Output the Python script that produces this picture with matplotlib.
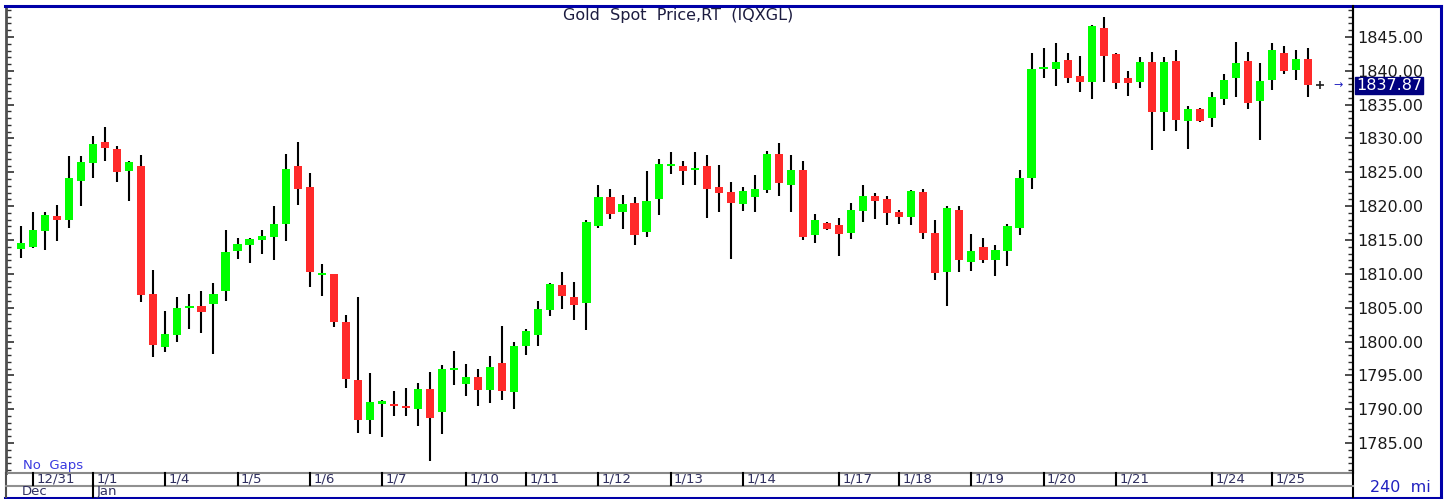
import matplotlib
matplotlib.use('Agg')
import matplotlib.pyplot as plt
from matplotlib.ticker import MultipleLocator, FormatStrFormatter
from matplotlib.transforms import blended_transform_factory

# 240-minute candles, Gold spot (IQXGL)
OPEN = [1813.6, 1814.0, 1816.4, 1818.5, 1817.9, 1823.7, 1826.4, 1829.5, 1828.5, 1825.2,
        1826.0, 1807.0, 1799.2, 1801.0, 1804.9, 1805.3, 1805.6, 1807.5, 1813.4, 1814.3,
        1815.05, 1815.5, 1817.3, 1825.9, 1822.8, 1809.95, 1810.0, 1802.9, 1794.3, 1788.35,
        1790.8, 1790.8, 1790.5, 1790.1, 1793.0, 1789.6, 1795.8, 1793.7, 1794.8, 1792.8,
        1796.8, 1792.5, 1799.3, 1801.0, 1804.7, 1808.35, 1806.6, 1805.65, 1817.1, 1821.4,
        1819.1, 1820.5, 1816.2, 1821.1, 1826.0, 1826.0, 1825.4, 1825.9, 1822.9, 1822.05,
        1820.3, 1821.4, 1822.4, 1827.7, 1823.2, 1825.35, 1815.8, 1817.5, 1817.2, 1816.1,
        1819.3, 1821.5, 1821.0, 1819.1, 1818.35, 1822.05, 1816.1, 1810.2, 1819.5, 1811.7,
        1813.9, 1812.05, 1813.4, 1816.8, 1824.2, 1840.3, 1840.3, 1841.55, 1839.2, 1838.4,
        1846.4, 1842.5, 1839.0, 1838.4, 1841.3, 1833.9, 1841.5, 1832.6, 1834.4, 1833.0,
        1835.9, 1839.0, 1841.4, 1835.6, 1838.65, 1842.6, 1840.1, 1841.7]
HIGH = [1817.0, 1819.1, 1819.1, 1820.2, 1827.4, 1827.4, 1830.4, 1831.7, 1828.9, 1826.7,
        1827.6, 1810.6, 1804.5, 1806.6, 1807.0, 1807.4, 1808.6, 1816.5, 1815.3, 1815.3,
        1816.5, 1820.0, 1827.7, 1829.5, 1824.9, 1811.4, 1810.0, 1803.9, 1806.6, 1795.3,
        1791.3, 1792.7, 1793.2, 1793.8, 1795.5, 1796.6, 1798.65, 1796.7, 1796.0, 1797.8,
        1802.3, 1800.0, 1801.8, 1806.0, 1808.7, 1810.2, 1808.8, 1817.9, 1823.2, 1822.5,
        1821.6, 1821.4, 1825.2, 1827.0, 1828.0, 1826.7, 1828.0, 1827.5, 1826.1, 1823.6,
        1822.8, 1824.6, 1828.1, 1829.3, 1827.5, 1826.7, 1818.9, 1817.6, 1818.2, 1820.5,
        1823.2, 1822.0, 1821.5, 1819.5, 1822.4, 1822.6, 1817.9, 1820.0, 1820.0, 1815.9,
        1815.25, 1814.2, 1817.4, 1825.35, 1842.7, 1843.4, 1844.1, 1842.7, 1842.2, 1846.75,
        1848.0, 1842.6, 1840.0, 1842.1, 1842.8, 1842.1, 1843.1, 1834.85, 1834.5, 1836.9,
        1839.5, 1844.2, 1842.8, 1841.2, 1844.1, 1843.7, 1843.1, 1843.4]
LOW = [1812.4, 1813.8, 1813.5, 1814.9, 1816.7, 1820.0, 1824.2, 1826.7, 1823.5, 1820.7,
       1805.9, 1797.7, 1798.5, 1800.0, 1801.8, 1801.3, 1798.2, 1806.0, 1812.2, 1811.6,
       1812.9, 1812.0, 1814.9, 1820.2, 1808.0, 1806.7, 1802.2, 1793.2, 1786.5, 1786.3,
       1785.9, 1789.0, 1789.0, 1787.5, 1782.3, 1786.3, 1793.5, 1792.0, 1790.4, 1790.9,
       1791.4, 1790.1, 1798.0, 1799.3, 1803.8, 1804.85, 1803.2, 1801.7, 1816.7, 1818.1,
       1816.6, 1814.2, 1815.5, 1818.7, 1824.8, 1823.1, 1823.1, 1818.2, 1819.1, 1812.2,
       1819.3, 1819.2, 1821.9, 1821.5, 1819.1, 1815.0, 1814.5, 1816.5, 1812.6, 1815.2,
       1817.7, 1818.1, 1817.2, 1817.4, 1817.2, 1815.1, 1809.1, 1805.25, 1810.3, 1810.4,
       1811.65, 1809.7, 1811.1, 1815.7, 1822.5, 1838.9, 1837.8, 1838.15, 1836.9, 1835.8,
       1838.4, 1837.3, 1836.3, 1837.4, 1828.3, 1831.1, 1831.1, 1828.4, 1832.5, 1831.65,
       1834.95, 1836.1, 1834.3, 1829.8, 1837.1, 1839.6, 1838.65, 1836.1]
CLOSE = [1814.5, 1816.5, 1818.7, 1817.9, 1824.2, 1826.5, 1829.2, 1828.6, 1825.0, 1826.5,
         1806.9, 1799.5, 1801.1, 1805.0, 1805.3, 1804.3, 1807.0, 1813.2, 1814.4, 1815.15,
         1815.6, 1817.3, 1825.5, 1822.6, 1810.2, 1810.05, 1802.9, 1794.5, 1788.35, 1791.0,
         1791.15, 1790.5, 1790.2, 1793.0, 1788.65, 1796.0, 1796.0, 1794.7, 1792.8, 1796.3,
         1792.7, 1799.3, 1801.5, 1804.8, 1808.55, 1806.7, 1805.35, 1817.6, 1821.4, 1818.9,
         1820.3, 1815.7, 1820.7, 1826.2, 1826.1, 1825.25, 1825.5, 1822.5, 1821.9, 1820.4,
         1822.3, 1822.5, 1827.7, 1823.4, 1825.35, 1815.5, 1817.9, 1816.6, 1815.9, 1819.5,
         1821.5, 1820.7, 1819.0, 1818.45, 1822.2, 1816.1, 1810.1, 1819.7, 1812.05, 1813.4,
         1812.0, 1813.5, 1817.1, 1824.2, 1840.2, 1840.4, 1841.3, 1839.0, 1838.3, 1846.6,
         1842.2, 1838.25, 1838.25, 1841.35, 1833.9, 1841.3, 1832.8, 1834.4, 1832.6, 1836.2,
         1838.65, 1841.1, 1835.25, 1838.55, 1843.1, 1840.0, 1841.7, 1837.87]

DAY_POS = [1, 6, 12, 18, 24, 30, 37, 42, 48, 54, 60, 68, 73, 79, 85, 91, 99, 104]
DAY_LABELS = ['12/31', '1/1', '1/4', '1/5', '1/6', '1/7', '1/10', '1/11', '1/12',
              '1/13', '1/14', '1/17', '1/18', '1/19', '1/20', '1/21', '1/24', '1/25']
MONTH_POS = [-0.2, 6]
MONTH_LABELS = ['Dec', 'Jan']
LAST_PRICE = 1837.87

W, H = 1451, 499
fig = plt.figure(figsize=(W / 100, H / 100), dpi=100)
fig.patch.set_facecolor('white')

# price pane: x 6..1353 px, y 7..473 px
ax = fig.add_axes([6 / W, (H - 473) / H, 1347 / W, 466 / H])
ax.set_xlim(-1.247, 110.72)
ax.set_ylim(1780.57, 1849.43)

x = list(range(len(OPEN)))
ax.vlines(x, LOW, HIGH, color='black', lw=1.5, zorder=2)
for i, (o, c) in enumerate(zip(OPEN, CLOSE)):
    col = '#00ff00' if c >= o else '#ff2a2a'
    h = max(abs(c - o), 0.3)
    ax.bar(i, h, bottom=min(o, c) - (h - abs(c - o)) / 2, width=0.68,
           color=col, lw=0, zorder=3)

ax.set_xticks([])
ax.yaxis.set_major_locator(MultipleLocator(5))
ax.yaxis.set_minor_locator(MultipleLocator(1))
ax.yaxis.set_major_formatter(FormatStrFormatter('%.2f'))
ax.tick_params(axis='y', which='both', left=True, right=True, labelleft=False,
               labelright=True, direction='in', colors='#303030')
ax.tick_params(axis='y', which='major', length=6, width=1.2, labelsize=11.5, pad=3,
               labelcolor='#1a1a1a')
ax.tick_params(axis='y', which='minor', length=3.5, width=1.0)
ax.spines['top'].set_visible(False)
ax.spines['left'].set_color('#505050')
ax.spines['left'].set_linewidth(2)
ax.spines['right'].set_color('black')
ax.spines['right'].set_linewidth(1.5)
ax.spines['bottom'].set_color('#888888')
ax.spines['bottom'].set_linewidth(1.5)

# last price marker and box
ax.plot(108, LAST_PRICE, marker='+', color='#202020', ms=6, mew=1.2, clip_on=False)
ax.text(109.5, LAST_PRICE, '→', color='#2020c0', fontsize=8, ha='center',
        va='center', clip_on=False)
ax.text(1.0025, LAST_PRICE, '1837.87', transform=ax.get_yaxis_transform(),
        color='white', fontsize=11.5, ha='left', va='center', zorder=6,
        bbox=dict(boxstyle='square,pad=0.06', fc='#000080', ec='#000080'))

# frame, date rows and captions in pixel coordinates
ov = fig.add_axes([0, 0, 1, 1], zorder=5)
ov.set_xlim(0, W)
ov.set_ylim(H, 0)
ov.axis('off')
ov.set_autoscale_on(False)
blue = '#0000a8'
ov.plot([5, 1441], [6, 6], color=blue, lw=2.2)
ov.plot([5, 1441], [497.5, 497.5], color=blue, lw=2.2)
ov.plot([1440.5, 1440.5], [6, 497.5], color=blue, lw=2.2)
ov.plot([1353, 1353], [6, 497], color='black', lw=1.5)
ov.plot([6, 6], [473, 497], color='#505050', lw=1.5)
ov.plot([6, 1353], [485.5, 485.5], color='#909090', lw=1.5)

tr = blended_transform_factory(ax.transData, ov.transData)
for p, lab in zip(DAY_POS, DAY_LABELS):
    ov.plot([p, p], [473, 485], color='black', lw=1.5, transform=tr, clip_on=False)
    ov.text(p + 0.28, 479.5, lab, transform=tr, fontsize=9.5, color='#303060',
            ha='left', va='center')
for p, lab in zip(MONTH_POS, MONTH_LABELS):
    if p > 0:
        ov.plot([p, p], [485, 497], color='black', lw=1.5, transform=tr, clip_on=False)
    ov.text(p + 0.28, 491.5, lab, transform=tr, fontsize=9.5, color='#303060',
            ha='left', va='center')

ov.text(678, 15, 'Gold  Spot  Price,RT  (IQXGL)', ha='center', va='center',
        fontsize=11.5, color='#1c1c40')
ov.text(23, 466, 'No  Gaps', ha='left', va='center', fontsize=9.5, color='#3a3ae0')
ov.text(1370, 487, '240  mi', ha='left', va='center', fontsize=11.5, color='#2020c0')

fig.savefig('out.png', dpi=100)
